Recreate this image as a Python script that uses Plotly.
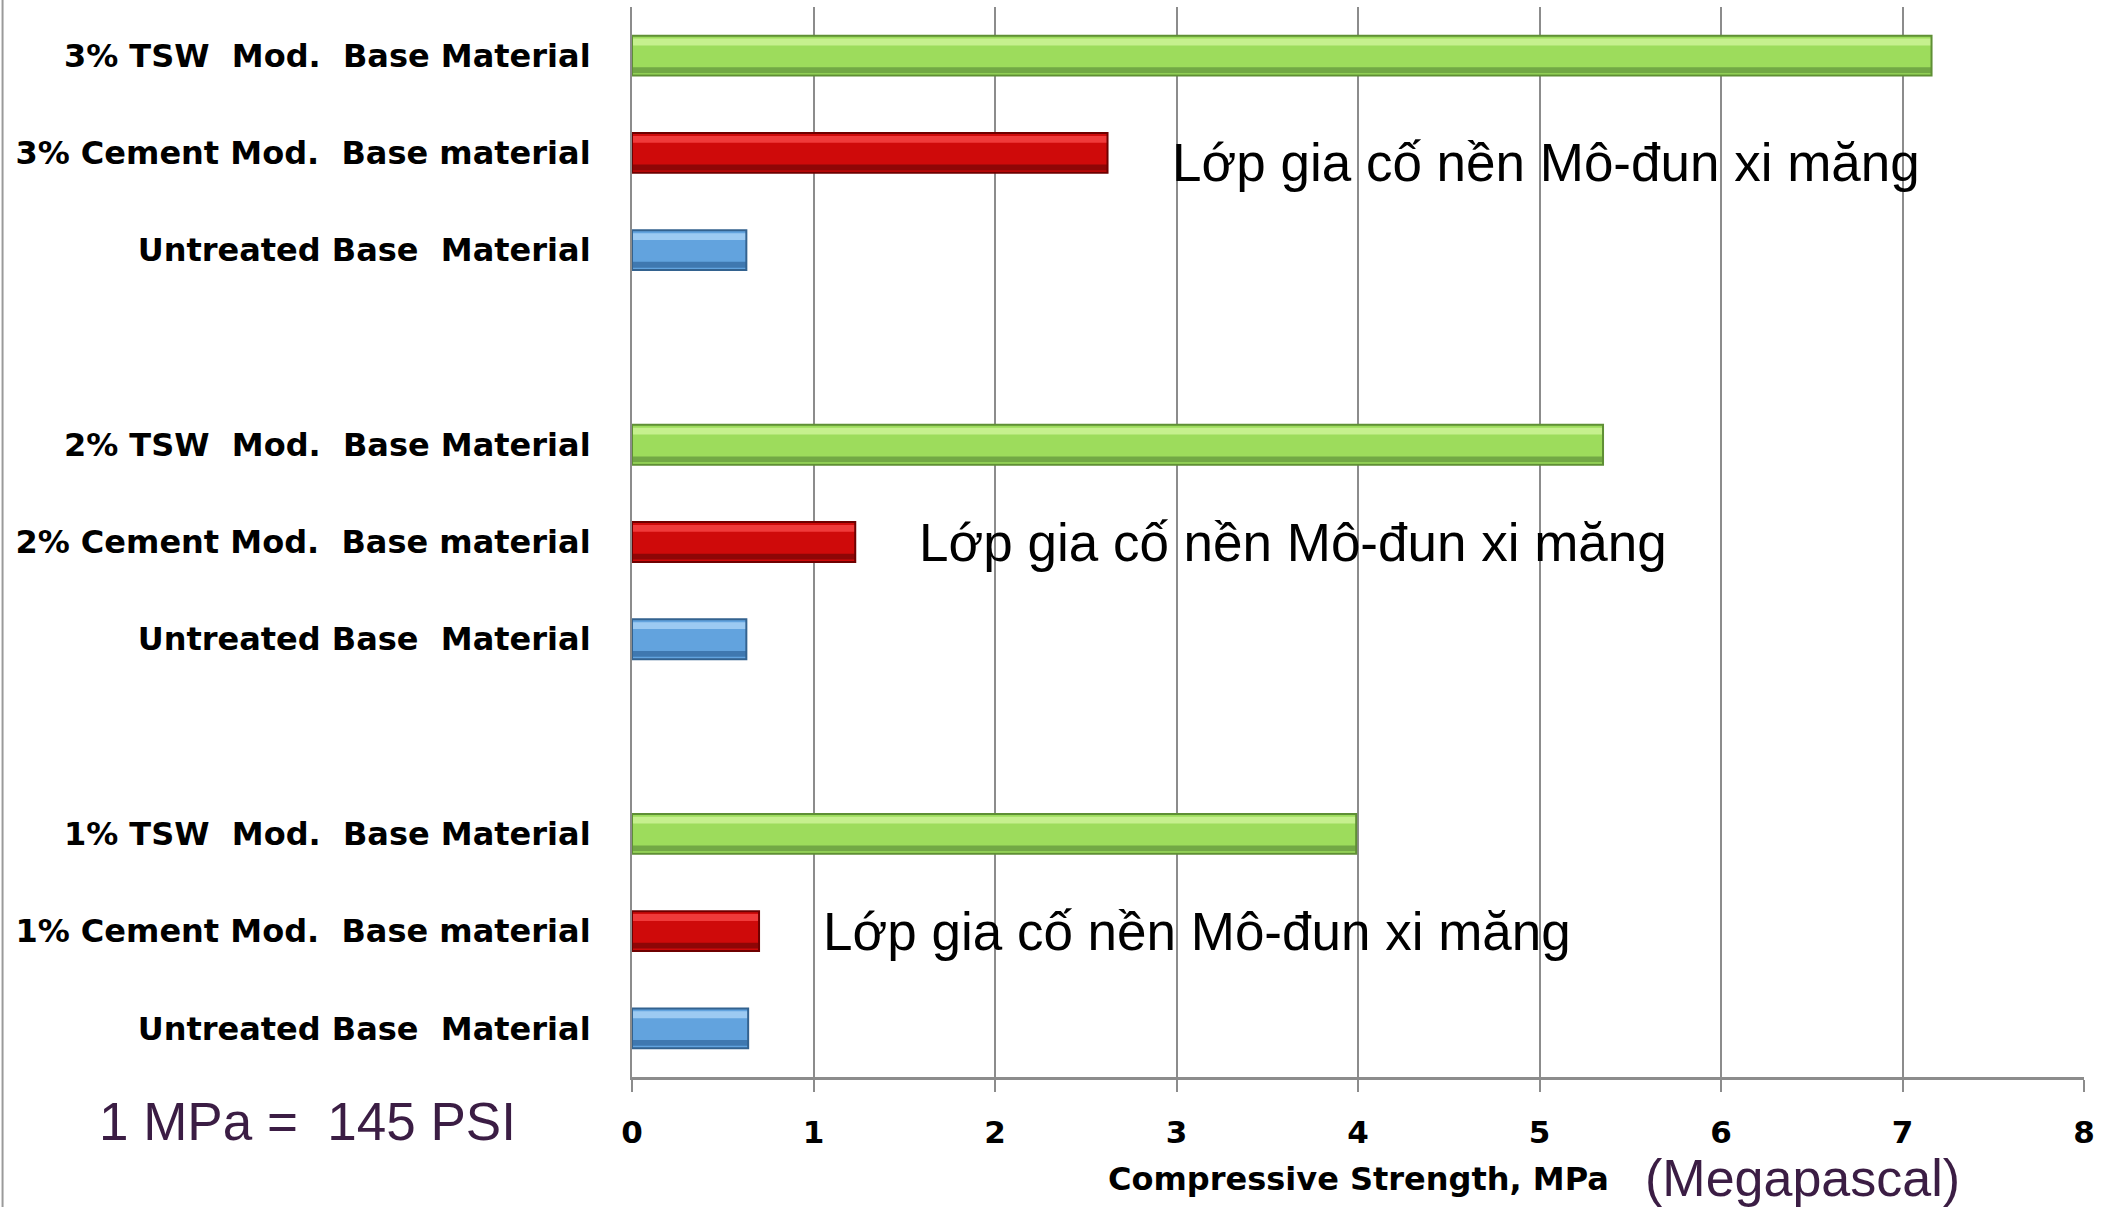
import plotly.graph_objects as go

# Compressive strength (MPa), one value per mix group
groups = ["3%", "2%", "1%"]
tsw_strength = [7.16, 5.35, 3.99]
cement_strength = [2.62, 1.23, 0.70]
untreated_strength = [0.63, 0.63, 0.64]

tsw_labels = ["3% TSW  Mod.  Base Material", "2% TSW  Mod.  Base Material",
              "1% TSW  Mod.  Base Material"]
cement_labels = ["3% Cement Mod.  Base material", "2% Cement Mod.  Base material",
                 "1% Cement Mod.  Base material"]
untreated_label = "Untreated Base  Material"
note_text = "Lớp gia cố nền Mô-đun xi măng"
x_ticks = [0, 1, 2, 3, 4, 5, 6, 7, 8]

# (main, light top, dark bottom, edge) for each bar kind
GREEN = ("#9ddc5c", "#c6f08e", "#72a845", "#5f8f35")
RED = ("#cf0a0a", "#f03a3a", "#8e0606", "#6e0000")
BLUE = ("#62a3de", "#9ccaf2", "#3f78b0", "#33628f")


def nb(s):
    # keep double spaces in SVG text
    return s.replace("  ", "\u00a0\u00a0")


# category slots top to bottom, with an empty slot between groups
cats, ticktext = [], []
for i, g in enumerate(groups):
    if i > 0:
        cats.append(f"gap{i}")
        ticktext.append("")
    for key, lab in [("tsw", tsw_labels[i]), ("cem", cement_labels[i]),
                     ("unt", untreated_label)]:
        cats.append(f"{g}_{key}")
        ticktext.append(nb(lab))

bar_cats, bar_vals, styles = [], [], []
for i, g in enumerate(groups):
    bar_cats += [f"{g}_tsw", f"{g}_cem", f"{g}_unt"]
    bar_vals += [tsw_strength[i], cement_strength[i], untreated_strength[i]]
    styles += [GREEN, RED, BLUE]

BAR_W = 0.41
fig = go.Figure()
# main body
fig.add_trace(go.Bar(
    x=bar_vals, y=bar_cats, orientation="h", width=BAR_W, offset=-BAR_W / 2,
    marker=dict(color=[s[0] for s in styles], line=dict(width=0)),
    hoverinfo="x+y", showlegend=False
))
# light band near the top (axis is reversed, so negative offset is up)
fig.add_trace(go.Bar(
    x=bar_vals, y=bar_cats, orientation="h", width=0.07, offset=-BAR_W / 2 + 0.03,
    marker=dict(color=[s[1] for s in styles], line=dict(width=0)),
    hoverinfo="skip", showlegend=False
))
# dark band near the bottom
fig.add_trace(go.Bar(
    x=bar_vals, y=bar_cats, orientation="h", width=0.06, offset=BAR_W / 2 - 0.085,
    marker=dict(color=[s[2] for s in styles], line=dict(width=0)),
    hoverinfo="skip", showlegend=False
))
# outline
fig.add_trace(go.Bar(
    x=bar_vals, y=bar_cats, orientation="h", width=BAR_W, offset=-BAR_W / 2,
    marker=dict(color="rgba(0,0,0,0)", line=dict(color=[s[3] for s in styles], width=2)),
    hoverinfo="skip", showlegend=False
))

# Vietnamese notes next to each cement bar
for i, g in enumerate(groups):
    fig.add_annotation(
        x=cement_strength[i], y=f"{g}_cem", xref="x", yref="y",
        text=note_text, showarrow=False, xanchor="left", yanchor="middle",
        xshift=62, yshift=-10 if i == 0 else 0,
        font=dict(family="Liberation Sans, Arial", size=53, color="#000000")
    )

fig.add_annotation(
    x=0.5, y=-0.095, xref="paper", yref="paper", showarrow=False,
    text="Compressive Strength, MPa", xanchor="center", yanchor="middle",
    font=dict(family="DejaVu Sans", size=32, color="#000000", weight="bold")
)
fig.add_annotation(
    x=0.806, y=-0.094, xref="paper", yref="paper", showarrow=False,
    text="(Megapascal)", xanchor="center", yanchor="middle",
    font=dict(family="Liberation Sans, Arial", size=52, color="#3b1d44")
)
fig.add_annotation(
    x=-0.2235, y=-0.042, xref="paper", yref="paper", showarrow=False,
    text="1 MPa =\u00a0\u00a0145 PSI", xanchor="center", yanchor="middle",
    font=dict(family="Liberation Sans, Arial", size=53, color="#3b1d44")
)

# slide border on the far left
fig.add_shape(type="line", xref="paper", yref="paper",
              x0=-0.4335, x1=-0.4335, y0=-0.13, y1=1.01,
              line=dict(color="#9a9a9a", width=2))

fig.update_layout(
    width=2108, height=1207,
    margin=dict(l=632, r=24, t=7, b=130),
    plot_bgcolor="#ffffff", paper_bgcolor="#ffffff",
    barmode="overlay",
    xaxis=dict(
        range=[0, 8], tickvals=x_ticks, ticktext=[str(t) for t in x_ticks],
        showgrid=True, gridcolor="#8c8c8c", gridwidth=2,
        showline=True, linecolor="#8c8c8c", linewidth=3,
        ticks="outside", ticklen=12, tickwidth=2, tickcolor="#8c8c8c",
        ticklabelstandoff=14, zeroline=False,
        tickfont=dict(family="DejaVu Sans", size=31, color="#000000", weight="bold")
    ),
    yaxis=dict(
        type="category", categoryorder="array", categoryarray=cats,
        tickvals=cats, ticktext=ticktext, autorange="reversed",
        showgrid=False, showline=True, linecolor="#8c8c8c", linewidth=2,
        ticks="", ticklabelstandoff=33, zeroline=False,
        tickfont=dict(family="DejaVu Sans", size=32, color="#000000", weight="bold")
    ),
)

# drop the default 8px page margin so the figure fills the window
fig.write_html("out.html", config={"displayModeBar": False},
               post_script="document.body.style.margin='0px';")
